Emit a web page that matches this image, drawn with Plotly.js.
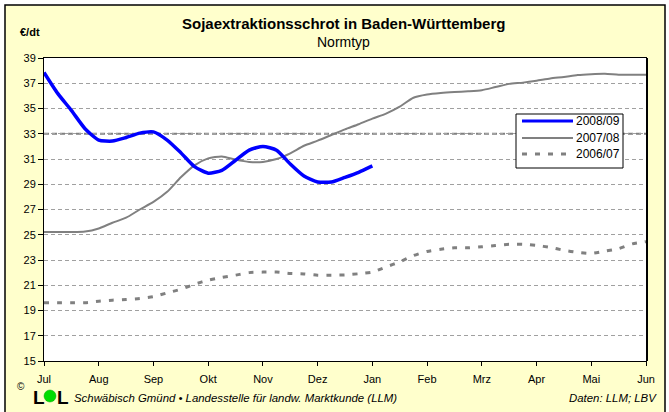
<!DOCTYPE html>
<html>
<head>
<meta charset="utf-8">
<script src="https://cdn.plot.ly/plotly-3.0.1.min.js"></script>
<style>html,body{margin:0;padding:0;background:#fff;}#chart{width:669px;height:412px;}</style>
</head>
<body>
<div id="chart"></div>
<script>
// Month tick labels (x axis)
const months = ['Jul','Aug','Sep','Okt','Nov','Dez','Jan','Feb','Mrz','Apr','Mai','Jun'];
// readings, one value every quarter month starting at Jul
const step = 0.25;
const s2008 = [37.86,36.2,34.85,33.4,32.5,32.42,32.7,33.05,33.15,32.5,31.5,30.4,29.88,30.1,30.9,31.7,32.0,31.7,30.6,29.65,29.18,29.18,29.55,29.95,30.45];
const s2007 = [25.21,25.21,25.21,25.25,25.5,25.95,26.35,27.0,27.6,28.4,29.55,30.5,31.05,31.2,30.95,30.77,30.77,31.0,31.45,32.05,32.45,32.9,33.35,33.75,34.2,34.6,35.15,35.85,36.1,36.22,36.3,36.36,36.45,36.7,36.95,37.05,37.2,37.38,37.5,37.65,37.72,37.75,37.68,37.67,37.67];
const s2006 = [19.61,19.61,19.61,19.62,19.73,19.82,19.87,19.95,20.09,20.4,20.68,21.08,21.4,21.62,21.8,22.0,22.04,22.04,21.94,21.9,21.8,21.8,21.82,21.91,22.04,22.45,22.85,23.35,23.68,23.85,23.97,23.97,24.05,24.15,24.24,24.24,24.15,24.0,23.77,23.6,23.52,23.7,23.9,24.28,24.45];
const yTicks = [15,17,19,21,23,25,27,29,31,33,35,37,39];
const names = ['2008/09','2007/08','2006/07'];

const pos = arr => arr.map((v,i)=>i*step);

// layout geometry (pixels)
const W=669,H=412,L=44,R=646,T=58,B=361;
const px = x => (x-L)/(R-L);
const py = y => (B-y)/(B-T);

const font = 'Liberation Sans, Arial, sans-serif';

const styles = [
  {color:'#0000FF', width:3.5},
  {color:'#808080', width:2},
  {color:'#808080', width:3, dash:'5px,8px'}
];
const series = [s2008, s2007, s2006];

const traces = [2,1,0].map(i => ({
  x:pos(series[i]), y:series[i], name:names[i], type:'scatter', mode:'lines',
  line:Object.assign({shape:'spline', smoothing:0.6}, styles[i])
}));

// custom legend
const legShapes = [{type:'rect', xref:'paper', yref:'paper', x0:px(516), x1:px(623), y0:py(168), y1:py(114),
  fillcolor:'#ffffff', line:{color:'#000', width:1}}];
const legAnn = [];
const rowY = [121,138,154];
names.forEach((n,i)=>{
  legShapes.push({type:'line', xref:'paper', yref:'paper', x0:px(522), x1:px(573), y0:py(rowY[i]), y1:py(rowY[i]),
    line:Object.assign({}, styles[i], {width: i===0?3:styles[i].width})});
  legAnn.push({text:n, xref:'paper', yref:'paper', x:px(574), y:py(rowY[i]), showarrow:false,
    xanchor:'left', yanchor:'middle', font:{family:font, size:12}});
});

const layout = {
  width:W, height:H,
  margin:{l:L, r:W-R, t:T, b:H-B, pad:0},
  paper_bgcolor:'#ffffff',
  plot_bgcolor:'rgba(0,0,0,0)',
  font:{family:font, size:11, color:'#000'},
  showlegend:false,
  xaxis:{range:[0,11], tickvals:months.map((m,i)=>i), ticktext:months,
    showgrid:false, zeroline:false, showline:true, linecolor:'#000', linewidth:1, mirror:true,
    ticks:'outside', ticklen:4, tickcolor:'#000', ticklabelstandoff:4,
    tickfont:{family:font, size:11}, fixedrange:true},
  yaxis:{range:[15,39], tickvals:yTicks, showgrid:true, gridcolor:'#a0a0a0', griddash:'4px,3px', gridwidth:1,
    zeroline:false, showline:true, linecolor:'#000', linewidth:1, mirror:true,
    ticks:'outside', ticklen:5, tickcolor:'#000', tickfont:{family:font, size:11}, fixedrange:true},
  shapes:[
    {type:'rect', xref:'paper', yref:'paper', x0:px(5), x1:px(665), y0:py(420), y1:py(5),
     fillcolor:'#FFFFCC', line:{color:'#000', width:1.5}, layer:'below'},
    {type:'rect', xref:'paper', yref:'paper', x0:0, x1:1, y0:0, y1:1,
     fillcolor:'#ffffff', line:{width:0}, layer:'below'},
    {type:'line', xref:'paper', yref:'y', x0:0, x1:1, y0:33, y1:33,
     line:{color:'#808080', width:2, dash:'5px,3px'}, layer:'below'},
    {type:'line', xref:'paper', yref:'paper', x0:px(647), x1:px(647), y0:py(361), y1:py(58),
     line:{color:'#000', width:2}},
    {type:'circle', xref:'paper', yref:'paper', x0:px(44), x1:px(56), y0:py(402), y1:py(390),
     fillcolor:'#00DD00', line:{color:'#00AA00', width:0.5}}
  ].concat(legShapes),
  annotations:[
    {text:'<b>Sojaextraktionsschrot in Baden-Württemberg</b>', xref:'paper', yref:'paper',
     x:px(343), y:py(23), showarrow:false, font:{family:font, size:15}, xanchor:'center', yanchor:'middle'},
    {text:'Normtyp', xref:'paper', yref:'paper', x:px(343), y:py(42), showarrow:false,
     font:{family:font, size:14}, xanchor:'center', yanchor:'middle'},
    {text:'<b>€/dt</b>', xref:'paper', yref:'paper', x:px(18), y:py(32), showarrow:false,
     font:{family:font, size:11}, xanchor:'left', yanchor:'middle'},
    {text:'©', xref:'paper', yref:'paper', x:px(15), y:py(386), showarrow:false,
     font:{family:font, size:10}, xanchor:'left', yanchor:'middle'},
    {text:'<b>L</b>', xref:'paper', yref:'paper', x:px(31), y:py(397), showarrow:false,
     font:{family:font, size:19}, xanchor:'left', yanchor:'middle'},
    {text:'<b>L</b>', xref:'paper', yref:'paper', x:px(55), y:py(397), showarrow:false,
     font:{family:font, size:19}, xanchor:'left', yanchor:'middle'},
    {text:'<i>Schwäbisch Gmünd • Landesstelle für landw. Marktkunde (LLM)</i>', xref:'paper', yref:'paper',
     x:px(72), y:py(398), showarrow:false, font:{family:font, size:11.4}, xanchor:'left', yanchor:'middle'},
    {text:'<i>Daten: LLM; LBV</i>', xref:'paper', yref:'paper', x:px(659), y:py(398), showarrow:false,
     font:{family:font, size:11.4}, xanchor:'right', yanchor:'middle'}
  ].concat(legAnn)
};

Plotly.newPlot('chart', traces, layout, {displayModeBar:false, staticPlot:true});
</script>
</body>
</html>
